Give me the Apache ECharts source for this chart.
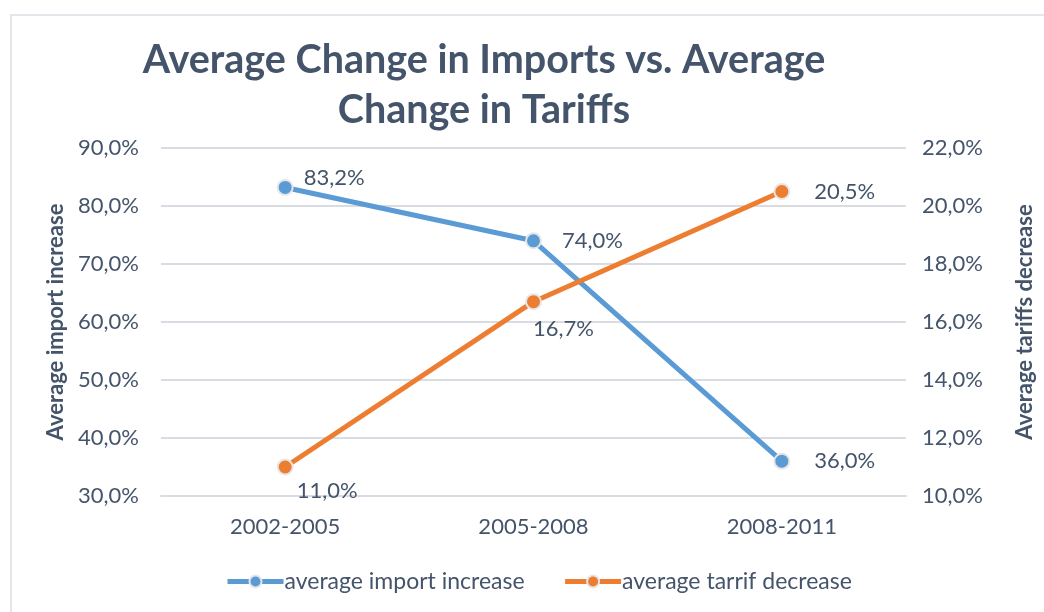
<!DOCTYPE html>
<html>
<head>
<meta charset="utf-8">
<script src="https://cdn.jsdelivr.net/npm/echarts@6/dist/echarts.min.js"></script>
<style>
  html, body { margin: 0; padding: 0; background: #ffffff; }
  #frame { position: absolute; left: 10px; top: 14px; width: 1040px; height: 610px; border: 2px solid #e3e7ec; box-sizing: border-box; }
  #chart { position: absolute; left: 0; top: 0; width: 1044px; height: 612px; }
</style>
</head>
<body>
<div id="frame"></div>
<div id="chart"></div>
<script>
// Periods on the x axis
const periods = ['2002-2005', '2005-2008', '2008-2011'];
// Average import increase (%), left axis
const importIncrease = [83.2, 74.0, 36.0];
// Average tariff decrease (%), right axis
const tariffDecrease = [11.0, 16.7, 20.5];

const TEXT = '#44546a';
const FONT = 'Lato';
const pct = v => v.toFixed(1).replace('.', ',') + '%';

const chart = echarts.init(document.getElementById('chart'), null, { renderer: 'canvas' });

// label placement for each point of the two series
const importLabels = [
  { position: 'right', distance: 10, offset: [0, -10] },
  { position: 'right', distance: 20 },
  { position: 'right', distance: 24 }
];
const tariffLabels = [
  { position: 'bottom', distance: 4, offset: [42, 0] },
  { position: 'bottom', distance: 8, offset: [30, 0] },
  { position: 'right', distance: 24 }
];

chart.setOption({
  backgroundColor: 'transparent',
  animation: false,
  textStyle: { fontFamily: FONT, color: TEXT },
  title: {
    text: 'Average Change in Imports vs. Average\nChange in Tariffs',
    left: 479,
    top: 30,
    textAlign: 'center',
    textStyle: { fontFamily: FONT, fontWeight: 'bold', fontSize: 39.5, color: TEXT, lineHeight: 50 }
  },
  legend: {
    bottom: 19,
    left: 225,
    padding: 0,
    itemWidth: 56,
    itemHeight: 15,
    itemGap: 38,
    lineStyle: { width: 5 },
    textStyle: { fontFamily: FONT, fontSize: 23, color: TEXT, padding: [0, 0, 0, -4] },
    data: ['average import increase', 'average tarrif decrease']
  },
  grid: { left: 161, right: 124, top: 148, bottom: 116, containLabel: false },
  xAxis: {
    type: 'category',
    data: periods,
    boundaryGap: true,
    axisLine: { show: true, lineStyle: { color: '#d9dde3', width: 2 } },
    axisTick: { show: false },
    axisLabel: { fontFamily: FONT, fontSize: 22, color: TEXT, margin: 20 }
  },
  yAxis: [
    {
      type: 'value',
      min: 30, max: 90, interval: 10,
      name: 'Average import increase',
      nameLocation: 'middle',
      nameGap: 90,
      nameRotate: 90,
      nameTextStyle: { fontFamily: FONT, fontWeight: 'bold', fontSize: 22, color: TEXT },
      axisLine: { show: false },
      axisTick: { show: false },
      splitLine: { lineStyle: { color: '#d9dde3', width: 2 } },
      axisLabel: { fontFamily: FONT, fontSize: 22, color: TEXT, margin: 22, formatter: v => pct(v) }
    },
    {
      type: 'value',
      min: 10, max: 22, interval: 2,
      name: 'Average tariffs decrease',
      nameLocation: 'middle',
      nameGap: 108,
      nameRotate: 90,
      nameTextStyle: { fontFamily: FONT, fontWeight: 'bold', fontSize: 22, color: TEXT },
      axisLine: { show: false },
      axisTick: { show: false },
      splitLine: { show: false },
      axisLabel: { fontFamily: FONT, fontSize: 22, color: TEXT, margin: 16, formatter: v => pct(v) }
    }
  ],
  series: [
    {
      name: 'average import increase',
      type: 'line',
      yAxisIndex: 0,
      data: importIncrease.map((v, i) => ({ value: v, label: importLabels[i] })),
      symbol: 'circle',
      symbolSize: 15,
      lineStyle: { color: '#5b9bd5', width: 5 },
      itemStyle: { color: '#5b9bd5', borderColor: '#e6e6e6', borderWidth: 2 },
      label: {
        show: true,
        fontFamily: FONT, fontSize: 22, color: TEXT,
        formatter: p => pct(p.value)
      }
    },
    {
      name: 'average tarrif decrease',
      type: 'line',
      yAxisIndex: 1,
      data: tariffDecrease.map((v, i) => ({ value: v, label: tariffLabels[i] })),
      symbol: 'circle',
      symbolSize: 15,
      lineStyle: { color: '#ed7d31', width: 5 },
      itemStyle: { color: '#ed7d31', borderColor: '#e6e6e6', borderWidth: 2 },
      label: {
        show: true,
        fontFamily: FONT, fontSize: 22, color: TEXT,
        formatter: p => pct(p.value)
      }
    }
  ]
});
</script>
</body>
</html>
